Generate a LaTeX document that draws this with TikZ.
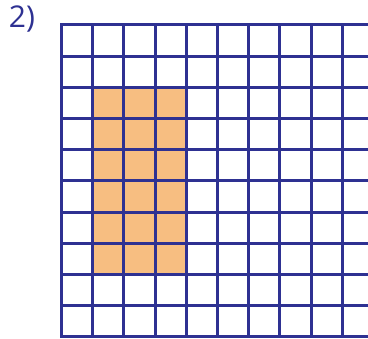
\documentclass[tikz,border=0pt]{standalone}
\usepackage{fontspec}
\setmainfont{Open Sans}
\definecolor{gridblue}{HTML}{2E3192}
\definecolor{fillorange}{HTML}{F7BE81}
\tikzset{gridline/.style={draw=gridblue,line width=3pt,line cap=rect}}
\begin{document}
\begin{tikzpicture}[x=1pt,y=-1pt]
\useasboundingbox (0,0) rectangle (368,339);
\fill[white] (0,0) rectangle (368,339);
\node[text=gridblue,font=\fontsize{30}{30}\selectfont,anchor=center] (label) at (22,19) {2)};
\begin{scope}
\clip (0,0) rectangle (368,339);
\fill[fillorange] (92.7,87.4) rectangle (186.3,274.6);
\foreach \i in {0,...,10} {
  \draw[gridline] (61.5+31.2*\i,25) -- (61.5+31.2*\i,337);
  \draw[gridline] (61.5,25+31.2*\i) -- (400,25+31.2*\i);
}
\end{scope}
\end{tikzpicture}
\end{document}
